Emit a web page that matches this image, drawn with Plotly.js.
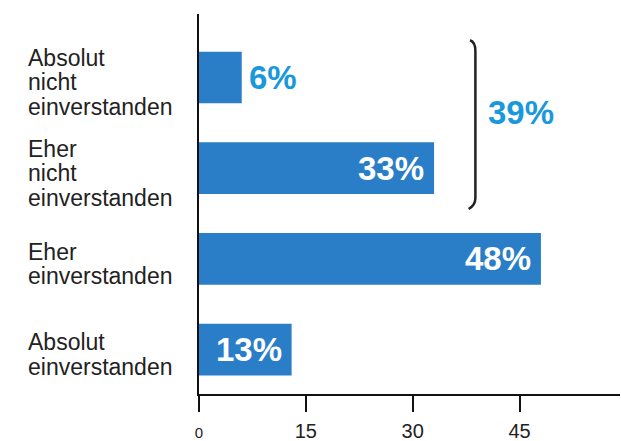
<!DOCTYPE html>
<html>
<head>
<meta charset="utf-8">
<script src="https://cdn.plot.ly/plotly-3.0.1.min.js"></script>
<style>html,body{margin:0;padding:0;background:#fff;}#chart{width:621px;height:441px;}</style>
</head>
<body>
<div id="chart"></div>
<script>
// Data
const categories = [
  ["Absolut", "nicht", "einverstanden"],
  ["Eher", "nicht", "einverstanden"],
  ["Eher", "einverstanden"],
  ["Absolut", "einverstanden"]
];
const values = [6, 33, 48, 13];
const valueLabels = ["6%", "33%", "48%", "13%"];
const labelInside = [false, true, true, true];
const groupLabel = "39%";
const groupIdx = [0, 1];
const xTickVals = [0, 15, 30, 45];
const xTickText = ["<span style='font-size:15px'>0</span>", "15", "30", "45"];

const barBlue = "#2a7ec7";
const textBlue = "#1a98dc";
const idx = values.map((v, i) => i);

const annotations = [];
// category labels, one annotation per line, left aligned
categories.forEach((lines, i) => {
  const n = lines.length;
  lines.forEach((ln, j) => {
    annotations.push({
      xref: "paper", yref: "y", x: -0.412, y: i,
      xanchor: "left", yanchor: "middle",
      yshift: ((n - 1) / 2 - j) * 24.5 - 5,
      text: ln, showarrow: false,
      font: {family: "Liberation Sans, Arial, sans-serif", size: 23, color: "#222"}
    });
  });
});
// value labels
values.forEach((v, i) => {
  annotations.push({
    xref: "x", yref: "y", x: v, y: i,
    xanchor: labelInside[i] ? "right" : "left",
    xshift: labelInside[i] ? -8 : 5,
    yanchor: "middle",
    text: "<b>" + valueLabels[i] + "</b>", showarrow: false,
    font: {family: "Liberation Sans, Arial, sans-serif", size: 33, color: labelInside[i] ? "#ffffff" : textBlue}
  });
});
// group label
const gMid = (groupIdx[0] + groupIdx[1]) / 2;
annotations.push({
  xref: "x", yref: "y", x: 40.3, y: gMid, xanchor: "left", yanchor: "middle", yshift: 10,
  text: "<b>" + groupLabel + "</b>", showarrow: false,
  font: {family: "Liberation Sans, Arial, sans-serif", size: 33, color: textBlue}
});

// bracket
const bx = 38.8, by0 = groupIdx[0] - 0.41, by1 = groupIdx[1] + 0.45;
const bracketPath = `M ${bx - 0.75},${by0} Q ${bx},${by0 + 0.02} ${bx},${by0 + 0.12} L ${bx},${by1 - 0.12} Q ${bx},${by1 - 0.04} ${bx - 0.95},${by1}`;

const trace = {
  type: "bar", orientation: "h",
  x: values, y: idx,
  width: 0.57,
  marker: {color: barBlue},
  hoverinfo: "none"
};

const layout = {
  width: 621, height: 441,
  margin: {l: 199, r: 1, t: 14, b: 47},
  paper_bgcolor: "#fff", plot_bgcolor: "#fff",
  showlegend: false,
  xaxis: {
    range: [0, 59.1], tickvals: xTickVals, ticktext: xTickText,
    showgrid: false, zeroline: false,
    showline: true, linecolor: "#111", linewidth: 2,
    ticks: "outside", ticklen: 16, tickwidth: 2, tickcolor: "#111",
    ticklabelstandoff: 2,
    tickfont: {family: "Liberation Sans, Arial, sans-serif", size: 20, color: "#222"},
    fixedrange: true
  },
  yaxis: {
    range: [3.49, -0.70], showgrid: false, zeroline: false,
    showline: true, linecolor: "#111", linewidth: 2,
    showticklabels: false, ticks: "", fixedrange: true
  },
  shapes: [{
    type: "path", xref: "x", yref: "y", path: bracketPath,
    line: {color: "#222", width: 2.5}
  }],
  annotations: annotations
};

Plotly.newPlot("chart", [trace], layout, {displayModeBar: false, staticPlot: true});
</script>
</body>
</html>
